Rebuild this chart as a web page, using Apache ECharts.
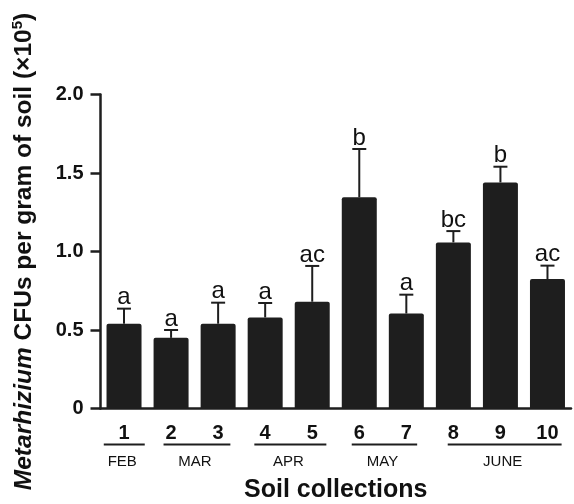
<!DOCTYPE html>
<html><head><meta charset="utf-8">
<script src="https://cdn.jsdelivr.net/npm/echarts@6/dist/echarts.min.js"></script>
<style>html,body{margin:0;padding:0;background:#fff}#c{width:574px;height:504px}</style>
</head><body><div id="c"></div>
<script>
var categories = ['1','2','3','4','5','6','7','8','9','10'];
var means = [0.54, 0.45, 0.54, 0.58, 0.68, 1.345, 0.605, 1.058, 1.44, 0.825];
var errUpper = [0.636, 0.50, 0.674, 0.672, 0.908, 1.653, 0.725, 1.13, 1.54, 0.91];
var letters = ['a','a','a','a','ac','b','a','bc','b','ac'];
var yTicks = [0, 0.5, 1.0, 1.5, 2.0];
var monthNames = ['FEB','MAR','APR','MAY','JUNE'];
var monthFirst = [0, 1, 3, 5, 7];
var monthLast = [0, 2, 4, 6, 9];

var INK = '#1e1e1e';
var chart = echarts.init(document.getElementById('c'), null, {renderer:'canvas'});

var errData = means.map(function(m,i){ return [i, m, errUpper[i], letters[i]]; });
var groupData = monthNames.map(function(n,i){ return [monthFirst[i], monthLast[i], n]; });
var padL = [-0.43, -0.16, -0.23, -0.16, -0.12];
var padR = [0.44, 0.26, 0.3, 0.23, 0.3];

chart.setOption({
  animation: false,
  grid: {left: 100.5, right: 3, top: 94.5, bottom: 95.5, containLabel: false, outerBoundsMode: 'none'},
  xAxis: {
    type: 'category', data: categories,
    axisLine: {lineStyle: {color: INK, width: 2.5}},
    axisTick: {alignWithLabel: true, length: 10, lineStyle: {color: INK, width: 2.5}},
    axisLabel: {color: '#111', fontFamily: 'Liberation Sans, Arial', fontWeight: 'bold', fontSize: 20, margin: 15},
    name: 'Soil collections', nameLocation: 'middle', nameGap: 69,
    nameTextStyle: {color: '#111', fontFamily: 'Liberation Sans, Arial', fontWeight: 'bold', fontSize: 25}
  },
  yAxis: {
    type: 'value', min: 0, max: 2.0, interval: 0.5,
    axisLine: {show: true, lineStyle: {color: INK, width: 2.5}},
    axisTick: {show: true, length: 10, lineStyle: {color: INK, width: 2.5}},
    splitLine: {show: false},
    axisLabel: {color: '#111', fontFamily: 'Liberation Sans, Arial', fontWeight: 'bold', fontSize: 20, margin: 17,
      formatter: function(v){ return v === 0 ? '0' : v.toFixed(1); }},
    name: '{it|Metarhizium} CFUs per gram of soil (×10{sup|5})',
    nameLocation: 'middle', nameGap: 63, nameRotate: 90,
    nameTextStyle: {color: '#111', fontFamily: 'Liberation Sans, Arial', fontWeight: 'bold', fontSize: 24.5,
      rich: {
        it: {fontStyle: 'italic', fontWeight: 'bold', fontSize: 24.5, fontFamily: 'Liberation Sans, Arial', color: '#111'},
        sup: {fontSize: 15, fontWeight: 'bold', fontFamily: 'Liberation Sans, Arial', color: '#111', verticalAlign: 'top', padding: [0,0,12,0]}
      }}
  },
  series: [
    {
      type: 'bar', data: means, barWidth: 35,
      itemStyle: {color: INK, borderRadius: [2,2,0,0]}, z: 2
    },
    {
      type: 'custom', data: errData, z: 3,
      renderItem: function(params, api){
        var x = api.value(0);
        var pTop = api.coord([x, api.value(2)]);
        var pMid = api.coord([x, api.value(1)]);
        var half = 7;
        return {type: 'group', children: [
          {type: 'line', shape: {x1: pTop[0], y1: pTop[1], x2: pMid[0], y2: pMid[1]}, style: {stroke: INK, lineWidth: 2}},
          {type: 'line', shape: {x1: pTop[0]-half, y1: pTop[1], x2: pTop[0]+half, y2: pTop[1]}, style: {stroke: INK, lineWidth: 2}},
          {type: 'text', style: {text: letters[params.dataIndex], x: pTop[0], y: pTop[1] + 1, align: 'center', verticalAlign: 'bottom',
            fill: '#111', font: 'normal 24px "Liberation Sans", Arial'}}
        ]};
      }
    },
    {
      type: 'custom', data: groupData, z: 3, clip: false,
      renderItem: function(params, api){
        var i = params.dataIndex;
        var a = api.coord([api.value(0), 0]);
        var b = api.coord([api.value(1), 0]);
        var x1 = a[0] + padL[i]*47.1, x2 = b[0] + padR[i]*47.1;
        var y = a[1] + 36;
        return {type: 'group', children: [
          {type: 'line', shape: {x1: x1, y1: y, x2: x2, y2: y}, style: {stroke: INK, lineWidth: 2}},
          {type: 'text', style: {text: monthNames[i], x: (x1+x2)/2 - 2, y: y + 17, align: 'center', verticalAlign: 'middle',
            fill: '#111', font: 'normal 15px "Liberation Sans", Arial'}}
        ]};
      }
    }
  ]
});
</script></body></html>
